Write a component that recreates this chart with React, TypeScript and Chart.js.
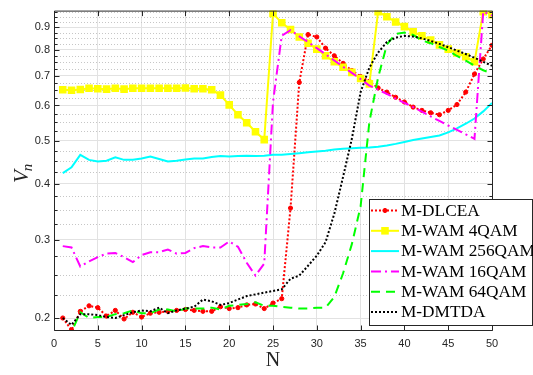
import React, { useEffect, useRef } from 'react';
import { Chart, registerables } from 'chart.js';

Chart.register(...registerables);

// Number of subcarriers / users on the horizontal axis
const N = [
  1, 2, 3, 4, 5, 6, 7, 8, 9, 10, 11, 12, 13, 14, 15, 16, 17, 18, 19, 20, 21, 22, 23, 24, 25,
  26, 27, 28, 29, 30, 31, 32, 33, 34, 35, 36, 37, 38, 39, 40, 41, 42, 43, 44, 45, 46, 47, 48, 49, 50,
];

const dlcea = [
  0.2, 0.188, 0.207, 0.213, 0.211, 0.202, 0.208, 0.199, 0.206, 0.201,
  0.205, 0.206, 0.207, 0.208, 0.209, 0.208, 0.207, 0.207, 0.212, 0.21,
  0.211, 0.214, 0.215, 0.21, 0.216, 0.221, 0.353, 0.676, 0.866, 0.855,
  0.807, 0.776, 0.746, 0.719, 0.697, 0.68, 0.657, 0.643, 0.626, 0.611,
  0.595, 0.585, 0.578, 0.572, 0.585, 0.603, 0.643, 0.706, 0.763, 0.819,
];

const wam4 = [
  0.651, 0.649, 0.652, 0.656, 0.654, 0.653, 0.656, 0.653, 0.656, 0.656,
  0.656, 0.656, 0.656, 0.656, 0.657, 0.654, 0.654, 0.651, 0.633, 0.602,
  0.572, 0.549, 0.524, 0.503, 0.965, 0.92, 0.889, 0.855, 0.828, 0.803,
  0.776, 0.752, 0.731, 0.712, 0.69, 0.671, 0.975, 0.949, 0.924, 0.902,
  0.878, 0.86, 0.842, 0.821, 0.803, 0.787, 0.772, 0.752, 0.975, 0.96,
];

const wam256 = [
  0.423, 0.436, 0.465, 0.453, 0.449, 0.451, 0.459, 0.453, 0.453, 0.456,
  0.461, 0.455, 0.449, 0.451, 0.454, 0.456, 0.456, 0.46, 0.462, 0.461,
  0.462, 0.463, 0.462, 0.463, 0.465, 0.465, 0.467, 0.469, 0.471, 0.473,
  0.475, 0.478, 0.48, 0.481, 0.482, 0.483, 0.485, 0.488, 0.492, 0.497,
  0.502, 0.506, 0.51, 0.514, 0.522, 0.533, 0.546, 0.561, 0.582, 0.608,
];

const wam16 = [
  0.29, 0.288, 0.261, 0.268, 0.274, 0.279, 0.28, 0.274, 0.267, 0.277,
  0.281, 0.281, 0.285, 0.279, 0.28, 0.287, 0.29, 0.288, 0.288, 0.297,
  0.289, 0.266, 0.249, 0.265, 0.611, 0.861, 0.886, 0.858, 0.833, 0.807,
  0.782, 0.757, 0.733, 0.71, 0.688, 0.665, 0.651, 0.637, 0.622, 0.608,
  0.595, 0.581, 0.567, 0.554, 0.541, 0.529, 0.517, 0.505, 0.975, 0.955,
];

const wam64 = [
  0.186, 0.186, 0.206, 0.2, 0.201, 0.201, 0.204, 0.205, 0.208, 0.205,
  0.205, 0.209, 0.209, 0.207, 0.21, 0.21, 0.21, 0.211, 0.209, 0.213,
  0.214, 0.215, 0.217, 0.213, 0.213, 0.212, 0.211, 0.21, 0.21, 0.211,
  0.211, 0.223, 0.252, 0.293, 0.356, 0.551, 0.694, 0.822, 0.869, 0.875,
  0.864, 0.84, 0.828, 0.812, 0.797, 0.775, 0.757, 0.737, 0.72, 0.708,
];

const dmtda = [
  0.2, 0.193, 0.204, 0.204, 0.203, 0.201, 0.2, 0.203, 0.206, 0.208,
  0.207, 0.211, 0.205, 0.208, 0.21, 0.212, 0.22, 0.218, 0.214, 0.216,
  0.22, 0.224, 0.226, 0.228, 0.23, 0.232, 0.245, 0.249, 0.262, 0.276,
  0.296, 0.343, 0.415, 0.505, 0.643, 0.73, 0.789, 0.833, 0.852, 0.86,
  0.857, 0.849, 0.838, 0.825, 0.811, 0.797, 0.783, 0.768, 0.752, 0.737,
];

const seriesLabels = [
  'M-DLCEA',
  'M-WAM 4QAM',
  'M-WAM 256QAM',
  'M-WAM 16QAM',
  'M-WAM 64QAM',
  'M-DMTDA',
];

const xTicks = [0, 5, 10, 15, 20, 25, 30, 35, 40, 45, 50];
const yTicks = [0.2, 0.3, 0.4, 0.5, 0.6, 0.7, 0.8, 0.9];
const yMinorTicks = [
  0.225, 0.25, 0.275, 0.325, 0.35, 0.375, 0.425, 0.45, 0.475,
  0.525, 0.55, 0.575, 0.625, 0.65, 0.675, 0.725, 0.75, 0.775,
  0.825, 0.85, 0.875, 0.925, 0.95, 0.975,
];

const Y_MIN = 0.187;
const Y_MAX = 0.98;
const X_MIN = 0;
const X_MAX = 50;

const AXIS = '#262626';

type Style = {
  color: string;
  dash: number[];
  marker: 'circle' | 'rect' | null;
  radius: number;
};

const styles: Style[] = [
  { color: '#ff0000', dash: [2, 2], marker: 'circle', radius: 2.1 },
  { color: '#ffff00', dash: [], marker: 'rect', radius: 4.3 },
  { color: '#00ffff', dash: [], marker: null, radius: 0 },
  { color: '#ff00ff', dash: [10, 4, 2, 4], marker: null, radius: 0 },
  { color: '#00ff00', dash: [9, 6], marker: null, radius: 0 },
  { color: '#000000', dash: [2, 2], marker: null, radius: 0 },
];

const seriesValues = [dlcea, wam4, wam256, wam16, wam64, dmtda];

function drawMarker(ctx: CanvasRenderingContext2D, s: Style, x: number, y: number) {
  if (!s.marker) return;
  ctx.save();
  ctx.setLineDash([]);
  ctx.fillStyle = s.color;
  ctx.strokeStyle = s.color;
  if (s.marker === 'circle') {
    ctx.lineWidth = 1;
    ctx.beginPath();
    ctx.arc(x, y, s.radius, 0, Math.PI * 2);
    ctx.fill();
    ctx.stroke();
  } else {
    const h = Math.SQRT1_2 * s.radius;
    ctx.lineWidth = 1.5;
    ctx.fillRect(x - h, y - h, 2 * h, 2 * h);
    ctx.strokeRect(x - h, y - h, 2 * h, 2 * h);
  }
  ctx.restore();
}

const axesFrame = {
  id: 'axesFrame',
  beforeDatasetsDraw(chart: any) {
    const { ctx, chartArea: a, scales } = chart;
    const y = scales.y;
    ctx.save();
    ctx.strokeStyle = '#c6c6c6';
    ctx.lineWidth = 1;
    ctx.setLineDash([1, 2]);
    yMinorTicks.forEach((v) => {
      const py = Math.round(y.getPixelForValue(v)) + 0.5;
      ctx.beginPath();
      ctx.moveTo(a.left, py);
      ctx.lineTo(a.right, py);
      ctx.stroke();
    });
    ctx.restore();
  },
  afterDatasetsDraw(chart: any) {
    const { ctx, chartArea: a, scales } = chart;
    const x = scales.x;
    const y = scales.y;
    const L = a.left + 0.5;
    const R = a.right + 0.5;
    const T = a.top + 0.5;
    const B = a.bottom - 0.5;
    ctx.save();
    ctx.strokeStyle = AXIS;
    ctx.lineWidth = 1;
    ctx.setLineDash([]);
    ctx.beginPath();
    ctx.moveTo(L, T);
    ctx.lineTo(R, T);
    ctx.lineTo(R, B);
    ctx.lineTo(L, B);
    ctx.closePath();
    ctx.stroke();

    ctx.beginPath();
    xTicks.forEach((v) => {
      const px = Math.round(x.getPixelForValue(v)) + 0.5;
      ctx.moveTo(px, B);
      ctx.lineTo(px, B - 5);
      ctx.moveTo(px, T);
      ctx.lineTo(px, T + 5);
    });
    yTicks.forEach((v) => {
      const py = Math.round(y.getPixelForValue(v)) + 0.5;
      ctx.moveTo(L, py);
      ctx.lineTo(L + 5, py);
      ctx.moveTo(R, py);
      ctx.lineTo(R - 5, py);
    });
    yMinorTicks.forEach((v) => {
      const py = Math.round(y.getPixelForValue(v)) + 0.5;
      ctx.moveTo(L, py);
      ctx.lineTo(L + 3, py);
      ctx.moveTo(R, py);
      ctx.lineTo(R - 3, py);
    });
    ctx.stroke();
    ctx.restore();
  },
  afterDraw(chart: any) {
    const { ctx, chartArea: a } = chart;
    ctx.save();

    // axis titles
    ctx.fillStyle = AXIS;
    ctx.textAlign = 'center';
    ctx.textBaseline = 'middle';
    ctx.font = '20px "Liberation Serif", serif';
    ctx.fillText('N', (a.left + a.right) / 2, 361);

    ctx.save();
    ctx.translate(21, (a.top + a.bottom) / 2 + 2);
    ctx.rotate(-Math.PI / 2);
    ctx.textAlign = 'left';
    ctx.textBaseline = 'alphabetic';
    ctx.font = 'italic 21px "Liberation Serif", serif';
    const vw = ctx.measureText('V').width;
    ctx.font = 'italic 15px "Liberation Serif", serif';
    const nw = ctx.measureText('n').width;
    const start = -(vw + nw) / 2;
    ctx.font = 'italic 21px "Liberation Serif", serif';
    ctx.fillText('V', start, 7);
    ctx.font = 'italic 15px "Liberation Serif", serif';
    ctx.fillText('n', start + vw - 1, 11);
    ctx.restore();

    // legend
    const bx = 369.5;
    const by = 199.5;
    const bw = 163;
    const bh = 126;
    ctx.fillStyle = '#ffffff';
    ctx.fillRect(bx, by, bw, bh);
    ctx.strokeStyle = AXIS;
    ctx.lineWidth = 1;
    ctx.setLineDash([]);
    ctx.strokeRect(bx, by, bw, bh);

    ctx.font = '16px "Liberation Serif", serif';
    ctx.textAlign = 'left';
    ctx.textBaseline = 'middle';
    seriesLabels.forEach((label, i) => {
      const s = styles[i];
      const ry = 210.5 + i * 20.3;
      ctx.save();
      ctx.strokeStyle = s.color;
      ctx.lineWidth = 2;
      ctx.setLineDash(s.dash);
      ctx.beginPath();
      ctx.moveTo(371, ry);
      ctx.lineTo(399, ry);
      ctx.stroke();
      ctx.restore();
      drawMarker(ctx, s, 385, ry);
      ctx.save();
      ctx.translate(401, ry + 1);
      ctx.scale(1.08, 1);
      ctx.fillStyle = '#000000';
      ctx.fillText(label, 0, 0);
      ctx.restore();
    });
    ctx.restore();
  },
};

export default function App() {
  const canvasRef = useRef<HTMLCanvasElement | null>(null);

  useEffect(() => {
    const canvas = canvasRef.current;
    if (!canvas) return;

    const datasets = seriesValues.map((vals, i) => {
      const s = styles[i];
      return {
        label: seriesLabels[i],
        data: vals.map((v, k) => ({ x: N[k], y: v })),
        borderColor: s.color,
        backgroundColor: s.color,
        borderWidth: 2,
        borderDash: s.dash,
        borderCapStyle: 'butt' as const,
        tension: 0,
        fill: false,
        pointStyle: s.marker || 'circle',
        pointRadius: s.radius,
        pointBorderWidth: s.marker === 'rect' ? 1.5 : 1,
        pointBackgroundColor: s.color,
        pointBorderColor: s.color,
        order: seriesValues.length - 1 - i,
      };
    });

    const tickFont = { family: '"Liberation Sans", Arial, sans-serif', size: 11 };

    const chart = new Chart(canvas, {
      type: 'line',
      data: { datasets },
      plugins: [axesFrame],
      options: {
        responsive: false,
        maintainAspectRatio: false,
        devicePixelRatio: 1,
        animation: false,
        events: [],
        layout: { padding: { top: 7, right: 41, bottom: 0, left: 0 } },
        plugins: {
          legend: { display: false },
          tooltip: { enabled: false },
          title: { display: false },
        },
        scales: {
          x: {
            type: 'linear',
            min: X_MIN,
            max: X_MAX,
            afterBuildTicks: (scale: any) => {
              scale.ticks = xTicks.map((v) => ({ value: v }));
            },
            afterFit: (scale: any) => {
              scale.height = 44;
            },
            ticks: {
              autoSkip: false,
              maxRotation: 0,
              padding: 6,
              color: AXIS,
              font: tickFont,
              callback: (v: any) => String(v),
            },
            grid: { color: '#e2e2e2', lineWidth: 1, drawTicks: false },
            border: { display: false },
          },
          y: {
            type: 'logarithmic',
            min: Y_MIN,
            max: Y_MAX,
            afterBuildTicks: (scale: any) => {
              scale.ticks = yTicks.map((v) => ({ value: v }));
            },
            afterFit: (scale: any) => {
              scale.width = 54;
            },
            ticks: {
              autoSkip: false,
              padding: 4,
              color: AXIS,
              font: tickFont,
              callback: (v: any) => String(v),
            },
            grid: { color: '#e2e2e2', lineWidth: 1, drawTicks: false },
            border: { display: false },
          },
        },
      } as any,
    });

    return () => {
      chart.destroy();
    };
  }, []);

  return (
    <div style={{ position: 'fixed', left: 0, top: 0, width: 533, height: 375, background: '#ffffff' }}>
      <canvas ref={canvasRef} width={533} height={375} style={{ display: 'block' }} />
    </div>
  );
}
